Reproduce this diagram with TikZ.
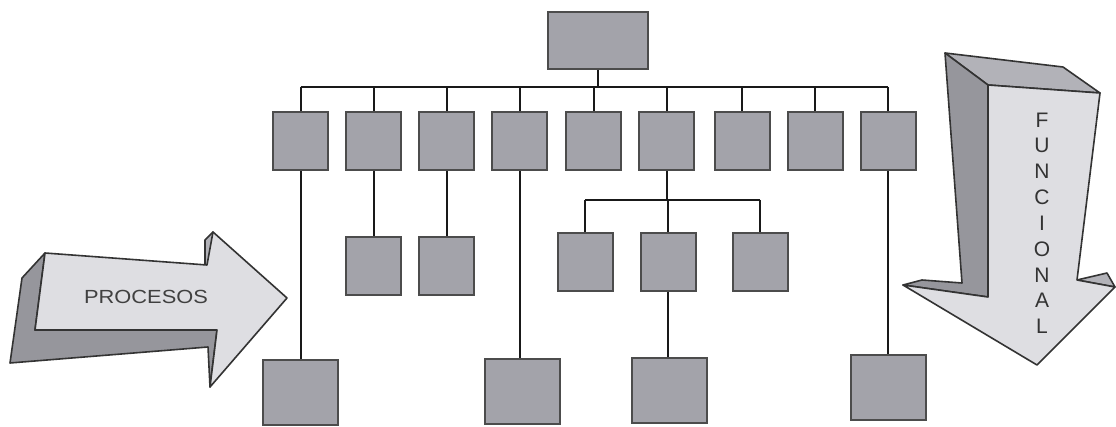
\documentclass[tikz,border=0pt]{standalone}
\usepackage{fontspec}
\newfontfamily\arrfont{Liberation Sans}
\definecolor{boxgray}{RGB}{163,163,170}
\definecolor{facelight}{RGB}{222,222,226}
\definecolor{sidedark}{RGB}{150,150,156}
\definecolor{sidemid}{RGB}{178,178,184}
\begin{document}
\begin{tikzpicture}[x=0.5pt,y=-0.5pt,
  orgbox/.style={draw=black!70,line width=1pt,fill=boxgray,minimum width=27.5pt,minimum height=29pt,inner sep=0pt},
  bigbox/.style={orgbox,minimum width=37.5pt,minimum height=32.5pt},
  topbox/.style={orgbox,minimum width=50pt,minimum height=28.5pt},
  link/.style={draw=black!90,line width=1pt},
  arrowface/.style={draw=black!80,line width=0.8pt,line join=round},
  letter/.style={font=\arrfont\fontsize{10.5}{10.5}\selectfont,text=black!80,inner sep=0pt}]
\useasboundingbox (0,0) rectangle (1116,427);
\fill[white] (0,0) rectangle (1116,427);
% ---------- left 3D arrow (PROCESOS)
\fill[sidedark,arrowface] (45,253) -- (22,278) -- (10,363) -- (208,347) -- (210,387) -- (217,330) -- (35,330) -- cycle;
\fill[sidemid,arrowface] (205,265) -- (205,240) -- (213,232) -- (213,265) -- cycle;
\filldraw[fill=facelight,arrowface] (45,253) -- (207,265) -- (213,232) -- (287,298) -- (210,387) -- (217,330) -- (35,330) -- cycle;
\node[font=\arrfont\fontsize{9.5}{9.5}\selectfont,text=black!75,xscale=1.15,transform shape] (proc) at (146,297) {PROCESOS};
% ---------- right 3D arrow (FUNCIONAL)
\fill[sidemid,arrowface] (945,53) -- (1063,67) -- (1100,93) -- (988,85) -- cycle;
\fill[sidedark,arrowface] (945,53) -- (988,85) -- (988,297) -- (903,285) -- (922,280) -- (962,283) -- cycle;
\fill[sidemid,arrowface] (1077,280) -- (1107,273) -- (1115,287) -- cycle;
\filldraw[fill=facelight,arrowface] (988,85) -- (1100,93) -- (1077,280) -- (1115,287) -- (1037,365) -- (903,285) -- (988,297) -- cycle;
\foreach \c [count=\i from 0] in {F,U,N,C,I,O,N,A,L}{
  \node[letter] (f\i) at (1042,{120+25.8*\i}) {\c};
}
% ---------- organisation chart
\node[topbox] (top) at (598,40.5) {};
\foreach \i/\x in {1/300.5,2/373.5,3/446.5,4/519.5,5/593.5,6/666.5,7/742,8/815,9/888}{
  \node[orgbox] (b\i) at (\x,141.5) {};
}
\node[orgbox] (c2) at (373.5,266) {};
\node[orgbox] (c3) at (446.5,266) {};
\node[orgbox] (c6a) at (585,262) {};
\node[orgbox] (c6b) at (668,262) {};
\node[orgbox] (c6c) at (760,262) {};
\node[bigbox] (d1) at (300.5,392.5) {};
\node[bigbox] (d4) at (522,391.5) {};
\node[bigbox] (d6) at (669,390.5) {};
\node[bigbox] (d9) at (888.5,388) {};
\coordinate (bus) at (0,87);
\coordinate (subbus) at (0,200);
\draw[link] (top.south) -- (top.south |- bus);
\draw[link] (b1.north |- bus) -- (b9.north |- bus);
\foreach \i in {1,...,9}{ \draw[link] (b\i.north |- bus) -- (b\i.north); }
\draw[link] (b1.south) -- (b1.south |- d1.north);
\draw[link] (b2.south) -- (c2.north);
\draw[link] (b3.south) -- (c3.north);
\draw[link] (b4.south) -- (b4.south |- d4.north);
\draw[link] (b6.south) -- (b6.south |- subbus);
\draw[link] (c6a.north |- subbus) -- (c6c.north |- subbus);
\draw[link] (c6a.north |- subbus) -- (c6a.north);
\draw[link] (c6b.north |- subbus) -- (c6b.north);
\draw[link] (c6c.north |- subbus) -- (c6c.north);
\draw[link] (c6b.south) -- (c6b.south |- d6.north);
\draw[link] (b9.south) -- (b9.south |- d9.north);
\end{tikzpicture}
\end{document}
